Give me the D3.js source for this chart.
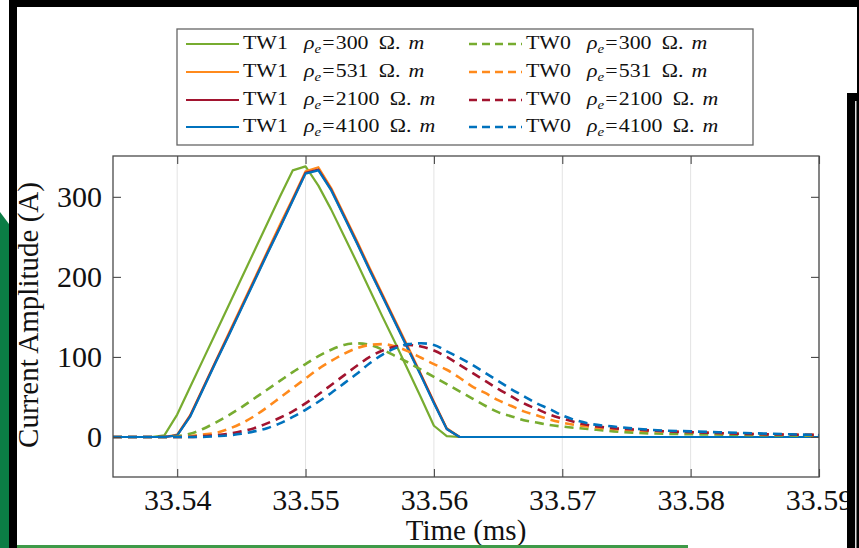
<!DOCTYPE html>
<html>
<head>
<meta charset="utf-8">
<script src="https://cdn.jsdelivr.net/npm/d3@7"></script>
<style>
  body { margin: 0; background: #fff; }
  svg { display: block; }
</style>
</head>
<body>
<div id="viz"></div>
<script>
// Chart data (time in ms, current in A)

let tw1Time = [33.535, 33.538, 33.539, 33.540, 33.541, 33.542, 33.543, 33.544, 33.545, 33.546,
               33.547, 33.548, 33.549, 33.550, 33.551, 33.552, 33.553, 33.554, 33.555, 33.556,
               33.557, 33.558, 33.559, 33.560, 33.561, 33.562, 33.590]

let tw1_300  = [0, 0, 2, 28, 62, 96, 130, 164, 198, 232, 266, 300, 333, 338, 314, 284, 251, 218, 184, 150, 117, 83, 49, 14, 1, 0, 0]
let tw1_531  = [0, 0, 0, 3, 27, 61, 95, 129, 163, 197, 231, 265, 298, 332, 337, 311, 278, 245, 211, 178, 145, 112, 78, 44, 11, 0, 0]
let tw1_2100 = [0, 0, 0, 2, 26, 60, 94, 127, 161, 195, 229, 262, 296, 330, 334, 309, 276, 243, 209, 176, 143, 110, 77, 43, 10, 0, 0]
let tw1_4100 = [0, 0, 0, 2, 25, 59, 93, 126, 160, 194, 228, 261, 295, 329, 333, 308, 275, 242, 208, 175, 142, 109, 76, 42, 10, 0, 0]

let tw0Time = [33.535, 33.538, 33.539, 33.540, 33.541, 33.542, 33.543, 33.544, 33.545, 33.546,
               33.547, 33.548, 33.549, 33.550, 33.551, 33.552, 33.553, 33.554, 33.555, 33.556,
               33.557, 33.558, 33.559, 33.560, 33.561, 33.562, 33.563, 33.564, 33.565, 33.566,
               33.567, 33.568, 33.569, 33.570, 33.572, 33.574, 33.576, 33.578, 33.580, 33.584, 33.590]

let tw0_300  = [0, 0, 0, 1, 4, 10, 18, 27, 37, 48, 59, 70, 81, 91, 101, 109, 115, 117, 115, 109,
                101, 93, 84, 75, 66, 57, 48, 39, 31, 26, 21, 18, 15, 13, 10, 7, 5, 4, 3.5, 2.5, 1.5]
let tw0_531  = [0, 0, 0, 0, 1, 3, 5, 10, 17, 26, 37, 49, 61, 73, 85, 95, 104, 111, 115, 116,
                113, 107, 99, 91, 84, 74, 63, 55, 46, 39, 32, 27, 22, 18, 13, 10, 8, 7, 6, 4, 2.5]
let tw0_2100 = [0, 0, 0, 0, 0, 1, 2, 4, 7, 11, 17, 24, 32, 42, 53, 65, 77, 89, 100, 108,
                113, 115, 113, 108, 100, 90, 80, 70, 60, 51, 42, 35, 28, 23, 15, 11, 9, 7, 6, 4, 2.5]
let tw0_4100 = [0, 0, 0, 0, 0, 0, 1, 2, 4, 7, 11, 17, 25, 34, 44, 55, 67, 79, 92, 103,
                111, 116, 117, 115, 107, 99, 90, 80, 70, 60, 51, 42, 35, 27, 17, 13, 10, 8, 7, 5, 2.5]

let seriesNames = ["TW1", "TW1", "TW1", "TW1", "TW0", "TW0", "TW0", "TW0"]
let rhoValues = ["300", "531", "2100", "4100", "300", "531", "2100", "4100"]
let seriesColors = ["#77AC30", "#FF8A1C", "#A2142F", "#0072BD", "#77AC30", "#FF8A1C", "#A2142F", "#0072BD"]

let xTicks = [33.54, 33.55, 33.56, 33.57, 33.58, 33.59]
let yTicks = [0, 100, 200, 300]

let series = [
  {t: tw1Time, v: tw1_300}, {t: tw1Time, v: tw1_531}, {t: tw1Time, v: tw1_2100}, {t: tw1Time, v: tw1_4100},
  {t: tw0Time, v: tw0_300}, {t: tw0Time, v: tw0_531}, {t: tw0Time, v: tw0_2100}, {t: tw0Time, v: tw0_4100}
]

//Layout
let width = 859
let height = 548
let plot = {left: 113, right: 819, top: 156, bottom: 477}
let serif = "'Liberation Serif', 'Times New Roman', serif"

let svg = d3.select('#viz').append('svg').attr("width", width).attr("height", height)

let x = d3.scaleLinear().domain([33.535, 33.59]).range([plot.left, plot.right])
let y = d3.scaleLinear().domain([-50, 351]).range([plot.bottom, plot.top])

//Vertical grid lines
svg.append("g").selectAll("line").data(xTicks).join("line")
   .attr("x1", d => x(d)).attr("x2", d => x(d))
   .attr("y1", plot.top).attr("y2", plot.bottom)
   .attr("stroke", "#e3e3e3").attr("stroke-width", 1)

//Curves
let clip = svg.append("clipPath").attr("id", "clip").append("rect")
   .attr("x", plot.left).attr("y", plot.top).attr("width", plot.right - plot.left).attr("height", plot.bottom - plot.top)

let lines = svg.append("g").attr("clip-path", "url(#clip)")
series.forEach((s, i) => {
  let pts = s.t.map((t, k) => [t, s.v[k]])
  let dashed = seriesNames[i] == "TW0"
  let line = d3.line().x(d => x(d[0])).y(d => y(d[1]))
              .curve(dashed ? d3.curveMonotoneX : d3.curveLinear)
  lines.append("path").datum(pts).attr("d", line)
       .attr("fill", "none").attr("stroke", seriesColors[i])
       .attr("stroke-width", dashed ? 2.6 : 2.2)
       .attr("stroke-dasharray", dashed ? "9,6" : null)
       .attr("stroke-linejoin", "round")
})

//Axes (ticks point inward, box all round)
let axisColor = "#4a4a4a"
let bottomAxis = svg.append("g").attr("transform", `translate(0,${plot.bottom})`)
   .call(d3.axisBottom(x).tickValues(xTicks).tickSize(-8).tickPadding(12).tickFormat(d3.format(".2f")))
let topAxis = svg.append("g").attr("transform", `translate(0,${plot.top})`)
   .call(d3.axisTop(x).tickValues(xTicks).tickSize(-8).tickFormat(""))
let leftAxis = svg.append("g").attr("transform", `translate(${plot.left},0)`)
   .call(d3.axisLeft(y).tickValues(yTicks).tickSize(-8).tickPadding(11))
let rightAxis = svg.append("g").attr("transform", `translate(${plot.right},0)`)
   .call(d3.axisRight(y).tickValues(yTicks).tickSize(-8).tickFormat(""))

;[bottomAxis, topAxis, leftAxis, rightAxis].forEach(a => {
  a.select(".domain").remove()
  a.selectAll(".tick line").attr("stroke", axisColor).attr("stroke-width", 1.1)
  a.selectAll(".tick text").attr("font-family", serif).attr("font-size", 30).attr("fill", "#111")
})

svg.append("rect").attr("x", plot.left).attr("y", plot.top)
   .attr("width", plot.right - plot.left).attr("height", plot.bottom - plot.top)
   .attr("fill", "none").attr("stroke", axisColor).attr("stroke-width", 1.3)

//Axis titles
svg.append("text").text("Time (ms)").attr("text-anchor", "middle")
   .attr("x", (plot.left + plot.right) / 2).attr("y", 540)
   .attr("font-family", serif).attr("font-size", 29).attr("fill", "#111")

svg.append("text").text("Current Amplitude (A)").attr("text-anchor", "middle")
   .attr("transform", "translate(38,315) rotate(-90)")
   .attr("font-family", serif).attr("font-size", 29).attr("fill", "#111")

//Legend
let legend = svg.append("g")
legend.append("rect").attr("x", 177).attr("y", 29).attr("width", 576).attr("height", 116)
      .attr("fill", "#fff").attr("stroke", "#666").attr("stroke-width", 1.3)

let rowY = [44, 72, 100, 127]
let stretch = 1.15
series.forEach((s, i) => {
  let col = i < 4 ? 0 : 1
  let row = i % 4
  let lx = col == 0 ? 186 : 469
  let tx = col == 0 ? 243 : 526
  let ly = rowY[row]
  let dashed = seriesNames[i] == "TW0"
  legend.append("line").attr("x1", lx).attr("x2", lx + 53).attr("y1", ly).attr("y2", ly)
        .attr("stroke", seriesColors[i]).attr("stroke-width", dashed ? 2.6 : 2.2)
        .attr("stroke-dasharray", dashed ? "8,5" : null)
  let txt = legend.append("text").attr("transform", `translate(${tx},${ly + 5}) scale(${stretch},1)`)
        .attr("font-family", serif).attr("font-size", 19).attr("fill", "#111")
  txt.append("tspan").text(seriesNames[i])
  txt.append("tspan").attr("x", 61 / stretch).attr("font-style", "italic").text("ρ")
  txt.append("tspan").attr("dy", 4).attr("font-size", 13).attr("font-style", "italic").text("e")
  txt.append("tspan").attr("dx", 1).attr("dy", -4).text("=")
  txt.append("tspan").attr("dx", 1).text(rhoValues[i])
  txt.append("tspan").attr("dx", 9).text("Ω.")
  txt.append("tspan").attr("dx", 7).attr("font-style", "italic").text("m")
})

//Screenshot frame around the figure
svg.append("rect").attr("x", 9).attr("y", 0).attr("width", width - 9).attr("height", 7).attr("fill", "#000")
svg.append("rect").attr("x", 9).attr("y", 0).attr("width", 8).attr("height", height).attr("fill", "#000")
svg.append("path").attr("d", "M0,212 L9,224 L9,548 L0,548 Z").attr("fill", "#0B7D45")
svg.append("rect").attr("x", 857).attr("y", 0).attr("width", 2).attr("height", height).attr("fill", "#000")
svg.append("rect").attr("x", 847).attr("y", 93).attr("width", 12).attr("height", height - 93).attr("fill", "#000")
svg.append("rect").attr("x", 855).attr("y", 101).attr("width", 1.5).attr("height", height - 101).attr("fill", "#ddd")
svg.append("rect").attr("x", 17).attr("y", 545).attr("width", 671).attr("height", 3).attr("fill", "#3E9A48")
</script>
</body>
</html>
